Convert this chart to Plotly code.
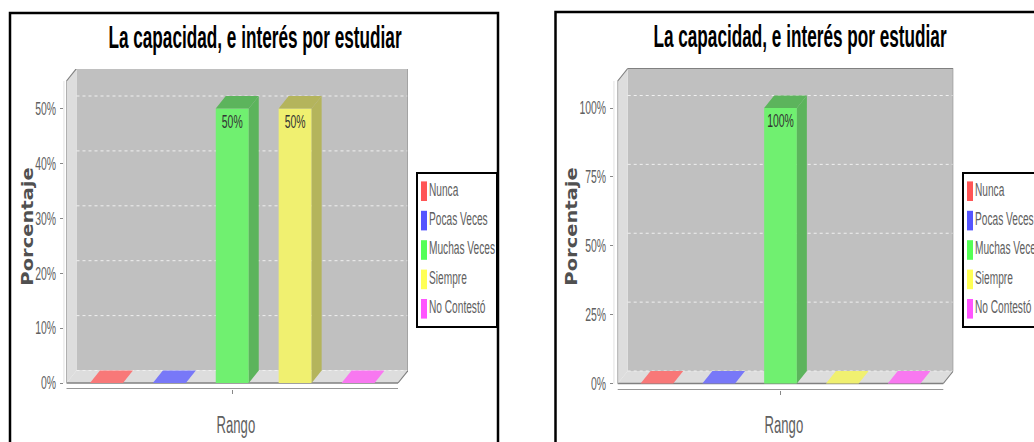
import plotly.graph_objects as go

W, H = 1034, 442
TITULO = "La capacidad, e interés por estudiar"
EJE_X = "Rango"
EJE_Y = "Porcentaje"
categorias = ["Nunca", "Pocas Veces", "Muchas Veces", "Siempre", "No Contestó"]
valores_izq = [0, 0, 50, 50, 0]
valores_der = [0, 0, 100, 0, 0]
ticks_izq = [0, 10, 20, 30, 40, 50]
ticks_der = [0, 25, 50, 75, 100]

col_leyenda = ["#ff5555", "#5555ff", "#55ff55", "#ffff55", "#ff55ff"]
col_frente = ["#f87878", "#7878f8", "#70f070", "#f0f070", "#f878f0"]
col_lado = ["#b45c5c", "#5c5cb4", "#5cb45c", "#b4b45c", "#b45cb4"]

FUENTE = "Liberation Sans, sans-serif"
GRIS = "#606060"

fig = go.Figure()
shapes, annotations = [], []


def px(v):
    return v / W


def py(v):
    return 1 - v / H


def panel(n, valores, ticks, g):
    xa, ya = ("x", "y") if n == 1 else (f"x{n}", f"y{n}")
    xk, yk = ("xaxis", "yaxis") if n == 1 else (f"xaxis{n}", f"yaxis{n}")
    span = g["der"] - g["izq"]
    centro = (g["izq"] + g["der"]) / 2
    esc = g["esc"]
    dx = 10 / span
    dy = g["prof"] / esc
    ancho = g["ancho"] / span
    paso = g["paso"] / span
    x_a = -0.5
    x_b = 0.5
    y_top_front = (g["cero"] - g["frente_top"]) / esc

    fig.update_layout({
        xk: dict(domain=[px(g["eje"]), px(g["der"] + 10)],
                 range=[(g["eje"] - centro) / span, (g["der"] + 10 - centro) / span],
                 tickvals=[0], ticktext=[""], ticks="outside", ticklen=4, tickcolor="#888",
                 showgrid=False, zeroline=False, showline=False, anchor=ya, automargin=False),
        yk: dict(domain=[py(g["base"]), py(g["fondo_top"])],
                 range=[(g["cero"] - g["base"]) / esc, (g["cero"] - g["fondo_top"]) / esc],
                 tickvals=ticks, ticktext=[f"{t}%" for t in ticks], ticks="outside", ticklen=3,
                 tickcolor="#888", tickfont=dict(family=FUENTE, size=18, color=GRIS),
                 showgrid=False, zeroline=False, showline=False, anchor=xa, automargin=False),
    })

    def poly(xs, ys, fill, layer="below"):
        path = "M" + " L".join(f"{a},{b}" for a, b in zip(xs, ys)) + " Z"
        shapes.append(dict(type="path", path=path, xref=xa, yref=ya, fillcolor=fill,
                           line=dict(width=0), layer=layer))

    def seg(x0, y0, x1, y1, col, w=1, dash="solid"):
        shapes.append(dict(type="line", x0=x0, y0=y0, x1=x1, y1=y1, xref=xa, yref=ya,
                           line=dict(color=col, width=w, dash=dash), layer="below"))

    # paredes
    poly([x_a + dx, x_b + dx, x_b + dx, x_a + dx],
         [dy, dy, y_top_front + dy, y_top_front + dy], "#c0c0c0")
    poly([x_a, x_a + dx, x_a + dx, x_a], [0, dy, y_top_front + dy, y_top_front], "#dddddd")
    poly([x_a, x_b, x_b + dx, x_a + dx], [0, 0, dy, dy], "#dddddd")
    # rejilla
    for t in ticks:
        seg(x_a + dx, t + dy, x_b + dx, t + dy, "#f0f0f0", 1, "dot")
    # contornos
    seg(x_a, y_top_front, x_a + dx, y_top_front + dy, "#808080", 1.2)
    seg(x_a + dx, y_top_front + dy, x_b + dx, y_top_front + dy, "#808080", 1.2)
    seg(x_b + dx, y_top_front + dy, x_b + dx, dy, "#909090", 1.2)
    seg(x_b + dx, dy, x_b, 0, "#808080", 1.2)
    seg(x_a, 0, x_b, 0, "#808080", 1.4)
    seg(x_a, 0, x_a, y_top_front, "#b0b0b0", 1)
    eje_y = (g["eje"] - centro) / span
    seg(eje_y, 0, eje_y, y_top_front, "#b8b8b8", 1)
    base = (g["cero"] - g["base"]) / esc
    seg(x_a, base, x_b, base, "#989898", 2)

    for i, (cat, v) in enumerate(zip(categorias, valores)):
        c = (i - 2) * paso
        fig.add_trace(go.Bar(
            x=[c], y=[v], width=ancho, name=cat, xaxis=xa, yaxis=ya, showlegend=False,
            marker=dict(color=col_frente[i], line=dict(width=0)),
            text=[f"{v}%"] if v > 0 else None, textposition="inside", insidetextanchor="end",
            constraintext="none", textangle=0,
            textfont=dict(family=FUENTE, size=18, color="#333"),
            hoverinfo="skip"))
        l, r = c - ancho / 2, c + ancho / 2
        top = col_lado[i] if v > 0 else col_frente[i]
        fig.add_trace(go.Scatter(
            x=[l, r, r + dx, l + dx, l], y=[v, v, v + dy, v + dy, v], mode="lines",
            fill="toself", fillcolor=top, line=dict(width=0), xaxis=xa, yaxis=ya,
            showlegend=False, hoverinfo="skip"))
        if v > 0:
            fig.add_trace(go.Scatter(
                x=[r, r, r + dx, r + dx, r], y=[0, v, v + dy, dy, 0], mode="lines",
                fill="toself", fillcolor=col_lado[i], line=dict(width=0), xaxis=xa, yaxis=ya,
                showlegend=False, hoverinfo="skip"))

    annotations.append(dict(text=TITULO, xref="paper", yref="paper",
                            x=px(g["titulo_x"]), y=py(g["titulo_y"]), showarrow=False,
                            xanchor="center", yanchor="middle",
                            font=dict(family=FUENTE, size=32, color="#000", weight="bold")))
    annotations.append(dict(text=EJE_X, xref="paper", yref="paper",
                            x=px((g["eje"] + g["der"] + 10) / 2), y=py(425), showarrow=False,
                            xanchor="center", yanchor="middle",
                            font=dict(family=FUENTE, size=23, color=GRIS)))
    annotations.append(dict(text=EJE_Y, xref="paper", yref="paper", textangle=-90,
                            x=px(g["eje_y_x"]), y=py(227), showarrow=False,
                            xanchor="center", yanchor="middle",
                            font=dict(family="DejaVu Sans", size=15, color="#505050", weight="bold")))


def leyenda(n, x0, x1, cerrada):
    xa, ya = f"x{n}", f"y{n}"
    fig.update_layout({
        f"xaxis{n}": dict(domain=[px(x0), px(x1)], range=[0, x1 - x0], anchor=ya,
                          showgrid=False, zeroline=False, showticklabels=False, ticks="",
                          showline=True, mirror=True, linecolor="#000", linewidth=1.5,
                          fixedrange=True),
        f"yaxis{n}": dict(domain=[py(326), py(174)], type="category",
                          categoryorder="array", categoryarray=categorias,
                          range=[4.585, -0.585], anchor=xa,
                          showgrid=False, zeroline=False, showticklabels=False, ticks="",
                          showline=True, mirror=cerrada, linecolor="#000", linewidth=1.5,
                          fixedrange=True),
    })
    fig.add_trace(go.Scatter(
        x=[6] * 5, y=categorias, mode="markers",
        marker=dict(symbol="line-ns", size=14, color=col_leyenda,
                    line=dict(width=6, color=col_leyenda)),
        xaxis=xa, yaxis=ya, showlegend=False, hoverinfo="skip"))
    fig.add_trace(go.Scatter(
        x=[11] * 5, y=categorias, mode="text", text=categorias,
        textposition="middle right", cliponaxis=False,
        textfont=dict(family=FUENTE, size=17.5, color=GRIS),
        xaxis=xa, yaxis=ya, showlegend=False, hoverinfo="skip"))


panel(1, valores_izq, ticks_izq, dict(eje=63.7, izq=66.5, der=398, cero=383, esc=5.49, base=389,
                                      fondo_top=69, frente_top=81, prof=12.5, ancho=33, paso=62.9,
                                      titulo_x=254.5, titulo_y=37, eje_y_x=28))
panel(2, valores_der, ticks_der, dict(eje=613.7, izq=617.7, der=943.3, cero=383.5, esc=2.755, base=390,
                                      fondo_top=68, frente_top=81, prof=12.5, ancho=32.7, paso=61.8,
                                      titulo_x=799.5, titulo_y=36, eje_y_x=572))
leyenda(3, 418, 496, True)
leyenda(4, 964, 1034, False)


def marco(x0, y0, x1, y1):
    shapes.append(dict(type="rect", xref="paper", yref="paper", x0=px(x0), x1=px(x1),
                       y0=py(y1), y1=py(y0), line=dict(color="#000", width=2.5),
                       fillcolor="rgba(0,0,0,0)", layer="above"))


marco(10, 13, 498, 460)
marco(555.5, 12, 1060, 460)

fig.update_layout(width=W, height=H, margin=dict(l=0, r=0, t=0, b=0), autosize=False,
                  paper_bgcolor="#fff", plot_bgcolor="rgba(0,0,0,0)", barmode="overlay",
                  showlegend=False, shapes=shapes, annotations=annotations)

# Texto real, estrechado en horizontal como en la imagen original
ESTRECHAR = """
document.body.style.margin = '0';
(function () {
  var gd = document.getElementById('{plot_id}');
  function apply() {
    gd.querySelectorAll('svg text').forEach(function (t) {
      if (t.getAttribute('textLength') || !t.textContent) return;
      var s = t.textContent, f = 0.58;
      if (s === 'Porcentaje') f = 1.3;
      else if (s.indexOf('capacidad') >= 0) f = 0.537;
      else if (s === 'Rango') f = 0.57;
      var len = t.getComputedTextLength();
      t.setAttribute('lengthAdjust', 'spacingAndGlyphs');
      t.setAttribute('textLength', (len * f).toFixed(1));
    });
  }
  apply();
  setTimeout(apply, 50);
})();
"""
fig.write_html("out.html", config=dict(displayModeBar=False), post_script=ESTRECHAR)
